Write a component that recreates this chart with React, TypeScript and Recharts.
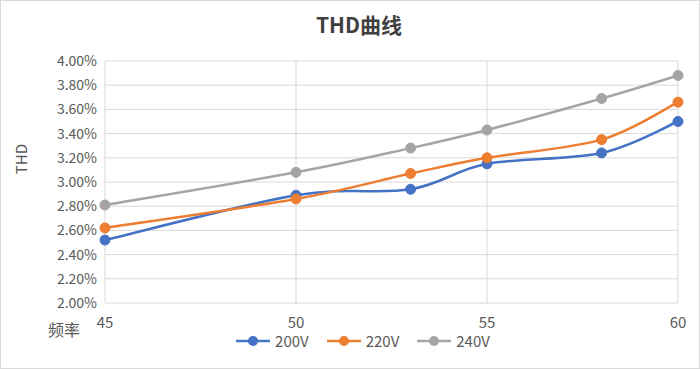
import React from 'react';
import { LineChart, Line, XAxis, YAxis, CartesianGrid } from 'recharts';

const xValues = [45, 50, 53, 55, 58, 60];
const v200 = [2.52, 2.89, 2.94, 3.15, 3.24, 3.5];
const v220 = [2.62, 2.86, 3.07, 3.2, 3.35, 3.66];
const v240 = [2.81, 3.08, 3.28, 3.43, 3.69, 3.88];
const seriesNames = ['200V', '220V', '240V'];
const seriesColors = ['#4472C4', '#ED7D31', '#A5A5A5'];
const xTicks = [45, 50, 55, 60];
const yTicks = [2.0, 2.2, 2.4, 2.6, 2.8, 3.0, 3.2, 3.4, 3.6, 3.8, 4.0];
const title = 'THD曲线';
const xLabel = '频率';
const yLabel = 'THD';

const seriesValues = [v200, v220, v240];
const data = xValues.map((x, i) => {
  const row: any = { x };
  seriesNames.forEach((n, k) => {
    row[n] = seriesValues[k][i];
  });
  return row;
});

const FONT = '"Noto Sans CJK SC", "Noto Sans", sans-serif';

function catmullRom(context: any) {
  let pts: number[][] = [];
  return {
    areaStart() {},
    areaEnd() {},
    lineStart() {
      pts = [];
    },
    lineEnd() {
      const n = pts.length;
      if (!n) return;
      context.moveTo(pts[0][0], pts[0][1]);
      for (let i = 0; i < n - 1; i++) {
        const p0 = pts[Math.max(i - 1, 0)];
        const p1 = pts[i];
        const p2 = pts[i + 1];
        const p3 = pts[Math.min(i + 2, n - 1)];
        const c1x = p1[0] + (p2[0] - p0[0]) / 6;
        const c1y = p1[1] + (p2[1] - p0[1]) / 6;
        const c2x = p2[0] - (p3[0] - p1[0]) / 6;
        const c2y = p2[1] - (p3[1] - p1[1]) / 6;
        context.bezierCurveTo(c1x, c1y, c2x, c2y, p2[0], p2[1]);
      }
    },
    point(x: number, y: number) {
      pts.push([+x, +y]);
    },
  };
}

const XLabelContent = (props: any) => {
  const vb = props.viewBox;
  return (
    <text x={vb.x - 41} y={vb.y + 33} textAnchor="middle" fill="#595959" fontSize={16} fontFamily={FONT}>
      {xLabel}
    </text>
  );
};

const YLabelContent = (props: any) => {
  const vb = props.viewBox;
  const cx = 20;
  const cy = 159;
  return (
    <text x={cx} y={cy} textAnchor="middle" dominantBaseline="central" transform={`rotate(-90 ${cx} ${cy})`} fill="#595959" fontSize={15} fontFamily={FONT}>
      {yLabel}
    </text>
  );
};

export default function App() {
  return (
    <div style={{ position: 'absolute', left: 0, top: 0, width: 700, height: 369, boxSizing: 'border-box', border: '1px solid #D9D9D9', background: '#fff', fontFamily: FONT }}>
      <div style={{ position: 'absolute', left: -1, top: -1, width: 700, height: 369 }}>
        <div style={{ position: 'absolute', left: 0, top: 10, width: 718, textAlign: 'center', fontSize: 21, fontWeight: 'bold', color: '#404040', lineHeight: '28px' }}>
          {title}
        </div>
        <LineChart width={700} height={369} data={data} margin={{ top: 61, right: 22, bottom: 36, left: 45 }}>
          <CartesianGrid stroke="#D9D9D9" strokeWidth={1} verticalValues={xTicks} horizontalValues={yTicks} />
          <XAxis
            dataKey="x"
            type="number"
            domain={[45, 60]}
            ticks={xTicks}
            axisLine={false}
            tickLine={false}
            tickMargin={8}
            height={30}
            tick={{ fill: '#595959', fontSize: 15, fontFamily: FONT }}
            label={<XLabelContent />}
          />
          <YAxis
            type="number"
            domain={[2, 4]}
            ticks={yTicks}
            width={60}
            axisLine={false}
            tickLine={false}
            tickFormatter={(v: number) => v.toFixed(2) + '%'}
            tick={{ fill: '#595959', fontSize: 14, fontFamily: FONT }}
            label={<YLabelContent />}
          />
          {seriesNames.map((n, k) => (
            <Line
              key={n}
              dataKey={n}
              type={catmullRom as any}
              stroke={seriesColors[k]}
              strokeWidth={2.5}
              dot={{ r: 5, fill: seriesColors[k], stroke: seriesColors[k], strokeWidth: 1 }}
              activeDot={false}
              isAnimationActive={false}
            />
          ))}
        </LineChart>
        <div style={{ position: 'absolute', left: 0, top: 331, width: 726, display: 'flex', justifyContent: 'center', fontSize: 15, color: '#595959', lineHeight: '20px' }}>
          {seriesNames.map((n, k) => (
            <div key={n} style={{ display: 'flex', alignItems: 'center', marginRight: k < seriesNames.length - 1 ? 18 : 0 }}>
              <svg width={34} height={12} style={{ marginRight: 5 }}>
                <line x1={0} y1={6} x2={34} y2={6} stroke={seriesColors[k]} strokeWidth={2.5} />
                <circle cx={17} cy={6} r={5} fill={seriesColors[k]} />
              </svg>
              <span>{n}</span>
            </div>
          ))}
        </div>
      </div>
    </div>
  );
}
